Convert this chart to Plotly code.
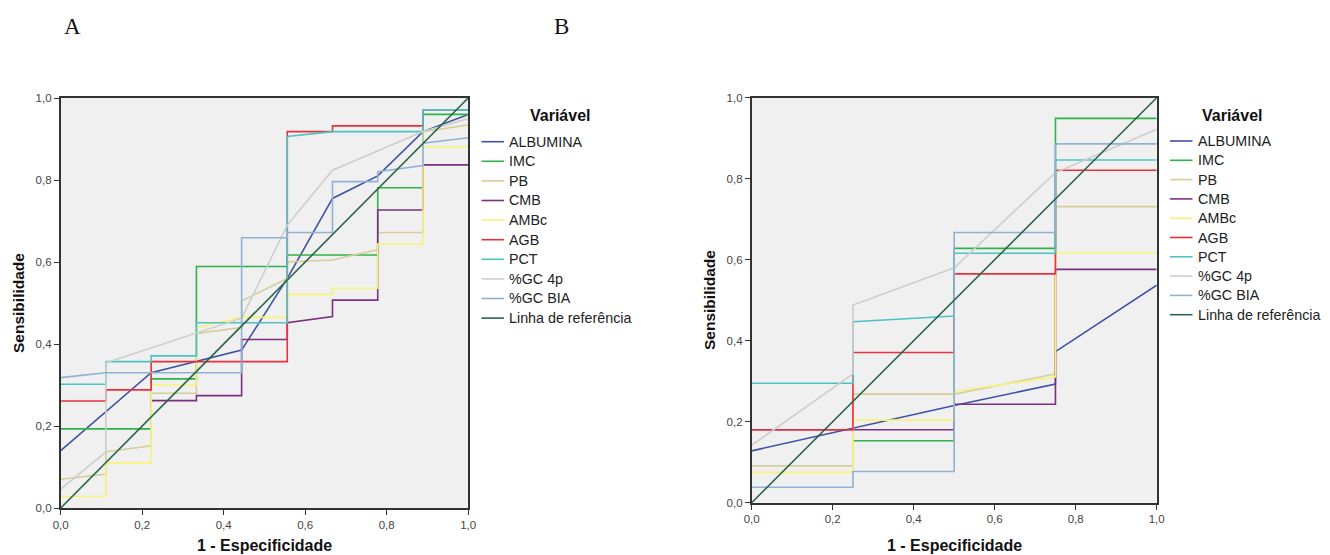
import plotly.graph_objects as go

# ---------------------------------------------------------------------------
# Curvas ROC: 1 - especificidade (x) versus sensibilidade (y)
# ---------------------------------------------------------------------------
VARIAVEIS = ["ALBUMINA", "IMC", "PB", "CMB", "AMBc", "AGB", "PCT", "%GC 4p", "%GC BIA"]
CORES = ["#3F52A6", "#2FB24A", "#D5CD9A", "#7B2F80", "#F6F27A",
         "#EC2F3B", "#4FC2C4", "#CDCDCD", "#8FB1D6"]
REFERENCIA = "Linha de referência"
COR_REFERENCIA = "#2B6649"

TICKS = [0.0, 0.2, 0.4, 0.6, 0.8, 1.0]
TICK_LABELS = ["0,0", "0,2", "0,4", "0,6", "0,8", "1,0"]

# ---- Painel A ----
a_albumina_x = [0, 0.222, 0.444, 0.556, 0.667, 0.778, 0.889, 1]
a_albumina_y = [0.14, 0.33, 0.385, 0.56, 0.755, 0.81, 0.918, 0.96]
a_imc_x = [0, 0.222, 0.222, 0.333, 0.333, 0.556, 0.556, 0.778, 0.778, 0.889, 0.889, 1]
a_imc_y = [0.193, 0.193, 0.315, 0.315, 0.589, 0.589, 0.617, 0.617, 0.781, 0.781, 0.96, 0.96]
a_pb_x = [0, 0.111, 0.111, 0.222, 0.222, 0.333, 0.333, 0.444, 0.444, 0.556, 0.556, 0.667, 0.778, 0.778, 0.889, 0.889, 1]
a_pb_y = [0.07, 0.083, 0.137, 0.152, 0.28, 0.28, 0.426, 0.44, 0.505, 0.56, 0.6, 0.605, 0.63, 0.672, 0.672, 0.918, 0.934]
a_cmb_x = [0.222, 0.333, 0.333, 0.444, 0.444, 0.556, 0.556, 0.667, 0.667, 0.778, 0.778, 0.889, 0.889, 1]
a_cmb_y = [0.262, 0.262, 0.274, 0.274, 0.411, 0.411, 0.452, 0.467, 0.507, 0.507, 0.727, 0.727, 0.837, 0.837]
a_ambc_x = [0, 0.111, 0.111, 0.222, 0.222, 0.333, 0.333, 0.444, 0.556, 0.556, 0.667, 0.667, 0.778, 0.778, 0.889, 0.889, 1]
a_ambc_y = [0.028, 0.028, 0.11, 0.11, 0.30, 0.30, 0.44, 0.465, 0.465, 0.521, 0.521, 0.536, 0.536, 0.644, 0.644, 0.881, 0.881]
a_agb_x = [0, 0.111, 0.111, 0.222, 0.222, 0.556, 0.556, 0.667, 0.667, 0.889, 0.889, 1]
a_agb_y = [0.261, 0.261, 0.288, 0.288, 0.357, 0.357, 0.918, 0.918, 0.932, 0.932, 0.971, 0.971]
a_pct_x = [0, 0.111, 0.111, 0.222, 0.222, 0.333, 0.333, 0.556, 0.556, 0.667, 0.889, 0.889, 1]
a_pct_y = [0.302, 0.302, 0.357, 0.357, 0.371, 0.371, 0.452, 0.452, 0.906, 0.918, 0.918, 0.971, 0.971]
a_gc4p_x = [0, 0.111, 0.111, 0.444, 0.556, 0.667, 0.889, 1]
a_gc4p_y = [0.046, 0.137, 0.354, 0.463, 0.69, 0.824, 0.918, 0.95]
a_gcbia_x = [0, 0.111, 0.444, 0.444, 0.556, 0.556, 0.667, 0.667, 0.778, 0.778, 0.889, 0.889, 1]
a_gcbia_y = [0.318, 0.33, 0.33, 0.659, 0.659, 0.672, 0.672, 0.796, 0.796, 0.82, 0.835, 0.89, 0.903]

# ---- Painel B ----
b_albumina_x = [0, 0.5, 0.75, 0.75, 1]
b_albumina_y = [0.128, 0.24, 0.293, 0.373, 0.537]
b_imc_x = [0.25, 0.5, 0.5, 0.75, 0.75, 1]
b_imc_y = [0.153, 0.153, 0.628, 0.628, 0.949, 0.949]
b_pb_x = [0, 0.25, 0.25, 0.5, 0.75, 0.75, 1]
b_pb_y = [0.091, 0.091, 0.268, 0.268, 0.318, 0.731, 0.731]
b_cmb_x = [0, 0.5, 0.5, 0.75, 0.75, 1]
b_cmb_y = [0.18, 0.18, 0.243, 0.243, 0.576, 0.576]
b_ambc_x = [0, 0.25, 0.25, 0.5, 0.5, 0.75, 0.75, 1]
b_ambc_y = [0.075, 0.075, 0.204, 0.204, 0.275, 0.31, 0.617, 0.617]
b_agb_x = [0, 0.25, 0.25, 0.5, 0.5, 0.75, 0.75, 1]
b_agb_y = [0.18, 0.18, 0.371, 0.371, 0.565, 0.565, 0.821, 0.821]
b_pct_x = [0, 0.25, 0.25, 0.5, 0.5, 0.75, 0.75, 1]
b_pct_y = [0.295, 0.295, 0.447, 0.461, 0.616, 0.616, 0.846, 0.846]
b_gc4p_x = [0, 0.25, 0.25, 0.5, 0.75, 1]
b_gc4p_y = [0.142, 0.318, 0.488, 0.58, 0.815, 0.922]
b_gcbia_x = [0, 0.25, 0.25, 0.5, 0.5, 0.75, 0.75, 1]
b_gcbia_y = [0.038, 0.038, 0.077, 0.077, 0.667, 0.667, 0.886, 0.886]

REF_X = [0, 1]
REF_Y = [0, 1]

PAINEL_A = [(a_albumina_x, a_albumina_y), (a_imc_x, a_imc_y), (a_pb_x, a_pb_y),
            (a_cmb_x, a_cmb_y), (a_ambc_x, a_ambc_y), (a_agb_x, a_agb_y),
            (a_pct_x, a_pct_y), (a_gc4p_x, a_gc4p_y), (a_gcbia_x, a_gcbia_y)]
PAINEL_B = [(b_albumina_x, b_albumina_y), (b_imc_x, b_imc_y), (b_pb_x, b_pb_y),
            (b_cmb_x, b_cmb_y), (b_ambc_x, b_ambc_y), (b_agb_x, b_agb_y),
            (b_pct_x, b_pct_y), (b_gc4p_x, b_gc4p_y), (b_gcbia_x, b_gcbia_y)]

# ---------------------------------------------------------------------------
W, H = 1330, 555


def fx(px):
    return px / W


def fy(py):
    return 1 - py / H


FONT = "Arial, Liberation Sans, sans-serif"
fig = go.Figure()

paineis = [
    # (séries, eixo x, eixo y, domínio x px, domínio y px)
    (PAINEL_A, "x", "y", (60.7, 468.2), (508.0, 98.0)),
    (PAINEL_B, "x2", "y2", (751.7, 1156.7), (502.7, 97.7)),
]

for series, xa, ya, _, _ in paineis:
    for (xs, ys), nome, cor in zip(series, VARIAVEIS, CORES):
        fig.add_trace(go.Scatter(x=xs, y=ys, mode="lines", name=nome,
                                 line=dict(color=cor, width=1.6),
                                 xaxis=xa, yaxis=ya, showlegend=False,
                                 hoverinfo="skip"))
    fig.add_trace(go.Scatter(x=REF_X, y=REF_Y, mode="lines", name=REFERENCIA,
                             line=dict(color=COR_REFERENCIA, width=1.6),
                             xaxis=xa, yaxis=ya, showlegend=False,
                             hoverinfo="skip"))

eixo_comum = dict(range=[0, 1], tickvals=TICKS, ticktext=TICK_LABELS,
                  ticks="outside", ticklen=5, tickwidth=1.3, tickcolor="#333",
                  showline=True, linecolor="#333", linewidth=1.6, mirror=True,
                  showgrid=False, zeroline=False, fixedrange=True,
                  automargin=False,
                  tickfont=dict(family=FONT, size=11.5, color="#444"))

layout = dict(width=W, height=H, margin=dict(l=0, r=0, t=0, b=0, pad=0),
              paper_bgcolor="white", plot_bgcolor="#F0F0F0",
              showlegend=False)
for i, (_, xa, ya, (x0, x1), (y0, y1)) in enumerate(paineis):
    sx = "" if i == 0 else str(i + 1)
    layout["xaxis" + sx] = dict(eixo_comum, domain=[fx(x0), fx(x1)],
                                anchor=ya)
    layout["yaxis" + sx] = dict(eixo_comum, domain=[fy(y0), fy(y1)],
                                anchor=xa)
fig.update_layout(**layout)

anotacoes = []
formas = []

# Letras dos painéis
for letra, px in (("A", 62), ("B", 552)):
    anotacoes.append(dict(text=letra, x=fx(px), y=fy(27), xref="paper", yref="paper",
                          xanchor="left", yanchor="middle", showarrow=False,
                          font=dict(family="Liberation Serif, Times New Roman, serif",
                                    size=23, color="#111")))

# Títulos dos eixos
for cx, yx, cy in ((264.5, 18, 303), (954.2, 709, 300)):
    anotacoes.append(dict(text="<b>1 - Especificidade</b>", x=fx(cx), y=fy(545),
                          xref="paper", yref="paper", xanchor="center",
                          yanchor="middle", showarrow=False,
                          font=dict(family=FONT, size=16, color="#111")))
    anotacoes.append(dict(text="<b>Sensibilidade</b>", x=fx(yx), y=fy(cy),
                          xref="paper", yref="paper", xanchor="center",
                          yanchor="middle", showarrow=False, textangle=-90,
                          font=dict(family=FONT, size=15.5, color="#111")))

# Legendas desenhadas à mão (linha curta + rótulo)
nomes_legenda = VARIAVEIS + [REFERENCIA]
cores_legenda = CORES + [COR_REFERENCIA]
for (lx0, lx1, tx, titulo_x, y_ini, passo) in ((481.5, 504, 507, 560, 141.7, 19.6),
                                               (1170, 1192.5, 1196, 1232, 141.0, 19.3)):
    anotacoes.append(dict(text="<b>Variável</b>", x=fx(titulo_x), y=fy(115),
                          xref="paper", yref="paper", xanchor="center",
                          yanchor="middle", showarrow=False,
                          font=dict(family=FONT, size=16, color="#111")))
    for k, (nome, cor) in enumerate(zip(nomes_legenda, cores_legenda)):
        yy = y_ini + k * passo
        formas.append(dict(type="line", xref="paper", yref="paper",
                           x0=fx(lx0), x1=fx(lx1), y0=fy(yy), y1=fy(yy),
                           line=dict(color=cor, width=1.6)))
        anotacoes.append(dict(text=nome, x=fx(tx), y=fy(yy), xref="paper",
                              yref="paper", xanchor="left", yanchor="middle",
                              showarrow=False,
                              font=dict(family=FONT, size=14.3, color="#222")))

fig.update_layout(annotations=anotacoes, shapes=formas)
fig.write_html("out.html")
